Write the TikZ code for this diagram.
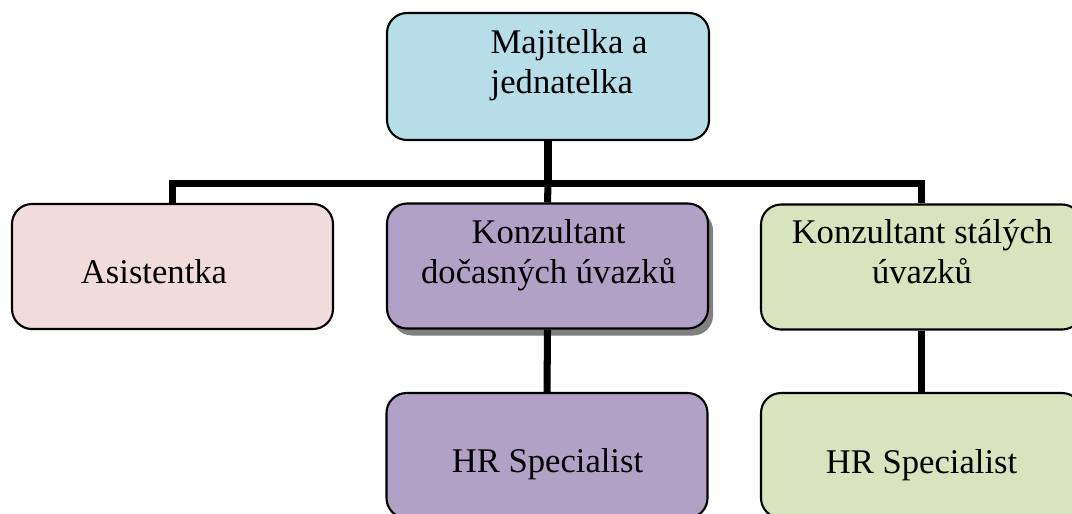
\documentclass[tikz,border=0pt]{standalone}
\usepackage{fontspec}
\setmainfont{Liberation Serif}
\usepackage{tikz}
\usetikzlibrary{positioning, shadows}

\definecolor{bleuclair}{HTML}{B7DEE8}
\definecolor{roseclair}{HTML}{F2DCDB}
\definecolor{mauve}{HTML}{B2A1C7}
\definecolor{vertclair}{HTML}{D7E4BD}

\begin{document}
\begin{tikzpicture}[
		boite/.style={rectangle, rounded corners=2mm, draw=black, line width=0.6pt, minimum width=3.21cm, minimum height=1.25cm, inner sep=0pt},
		texte/.style={font=\fontsize{9.85}{11.38}\selectfont, inner sep=0pt},
		lien/.style={draw, line width=2pt} % traits de l'organigramme
		]
		\useasboundingbox (0,0) rectangle (10.72,-5.13);
		
		% Les boites
		\node[boite, fill=bleuclair, minimum width=3.22cm, minimum height=1.27cm] (dir) at (5.48,-0.765) {};
		\node[boite, fill=roseclair] (asis) at (1.725,-2.665) {};
		\node[boite, fill=mauve, drop shadow={shadow xshift=0.5mm, shadow yshift=-0.7mm, fill=black!50, opacity=1}] (kdoc) at (5.475,-2.66) {};
		\node[boite, fill=vertclair] (kstal) at (9.215,-2.67) {};
		\node[boite, fill=mauve] (hra) at (5.47,-4.555) {};
		\node[boite, fill=vertclair] (hrb) at (9.215,-4.555) {};
		
		% Les textes (base = ligne du bas)
		\node[texte, anchor=base west, align=left] (tdir) at (4.90,-0.93) {Majitelka a\\jednatelka};
		\node[texte, anchor=base] (tasis) at (1.54,-2.83) {Asistentka};
		\node[texte, anchor=base, align=center] (tkdoc) at (5.485,-2.83) {Konzultant\\dočasných úvazků};
		\node[texte, anchor=base, align=center] (tkstal) at (9.22,-2.83) {Konzultant stálých\\úvazků};
		\node[texte, anchor=base] (thra) at (5.475,-4.72) {HR Specialist};
		\node[texte, anchor=base] (thrb) at (9.215,-4.73) {HR Specialist};
		
		% Les liens
		\coordinate (barre) at (5.48,-1.835);
		\draw[lien] (dir.south) -- (barre);
		\draw[lien] (asis.north) -- (asis.north |- barre) -- (kstal.north |- barre) -- (kstal.north);
		\draw[lien] (barre) -- (kdoc.north);
		\draw[lien] (kdoc.south) -- (hra.north);
		\draw[lien] (kstal.south) -- (hrb.north);
	\end{tikzpicture}
\end{document}
